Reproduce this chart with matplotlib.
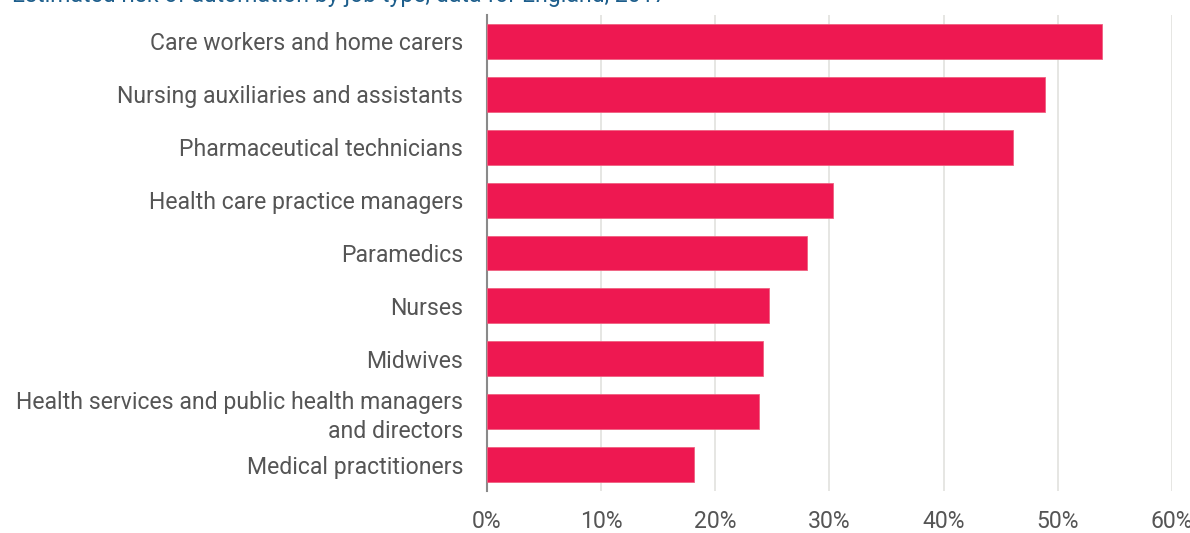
import matplotlib.pyplot as plt
from matplotlib.ticker import PercentFormatter

jobs = [
    "Care workers and home carers",
    "Nursing auxiliaries and assistants",
    "Pharmaceutical technicians",
    "Health care practice managers",
    "Paramedics",
    "Nurses",
    "Midwives",
    "Health services and public health managers\nand directors",
    "Medical practitioners",
]
risk = [53.9, 48.9, 46.1, 30.3, 28.0, 24.7, 24.2, 23.8, 18.1]

plt.rcParams['font.family'] = ['Roboto', 'DejaVu Sans']

fig = plt.figure(figsize=(11.9, 5.33), dpi=100)
ax = fig.add_axes([0.4092, 0.0788, 0.5756, 0.893])

ypos = list(range(len(jobs)))
ax.barh(ypos, risk, height=0.66, color='#ee1851', edgecolor='#f06080', linewidth=0.6, zorder=3)

ax.set_ylim(len(jobs) - 0.5, -0.5)
ax.set_xlim(0, 60)
ax.set_xticks(range(0, 61, 10))
ax.xaxis.set_major_formatter(PercentFormatter(decimals=0))
ax.set_yticks(ypos)
ax.set_yticklabels(jobs, fontsize=16.6, color='#555555', linespacing=1.3)
ax.tick_params(axis='x', length=0, pad=14, labelsize=16.6, labelcolor='#555555')
ax.tick_params(axis='y', length=0, pad=17)

ax.grid(axis='x', color='#e2e2de', linewidth=1.2, zorder=0)
for s in ['top', 'right', 'bottom']:
    ax.spines[s].set_visible(False)
ax.spines['left'].set_color('#8a8a8a')
ax.spines['left'].set_linewidth(1.5)

fig.text(12 / 1190, 1 - 2 / 533, "Estimated risk of automation by job type, data for England, 2017",
         fontsize=16.6, color='#1d5e8c', va='baseline', ha='left')

fig.savefig('out.png', dpi=100)
